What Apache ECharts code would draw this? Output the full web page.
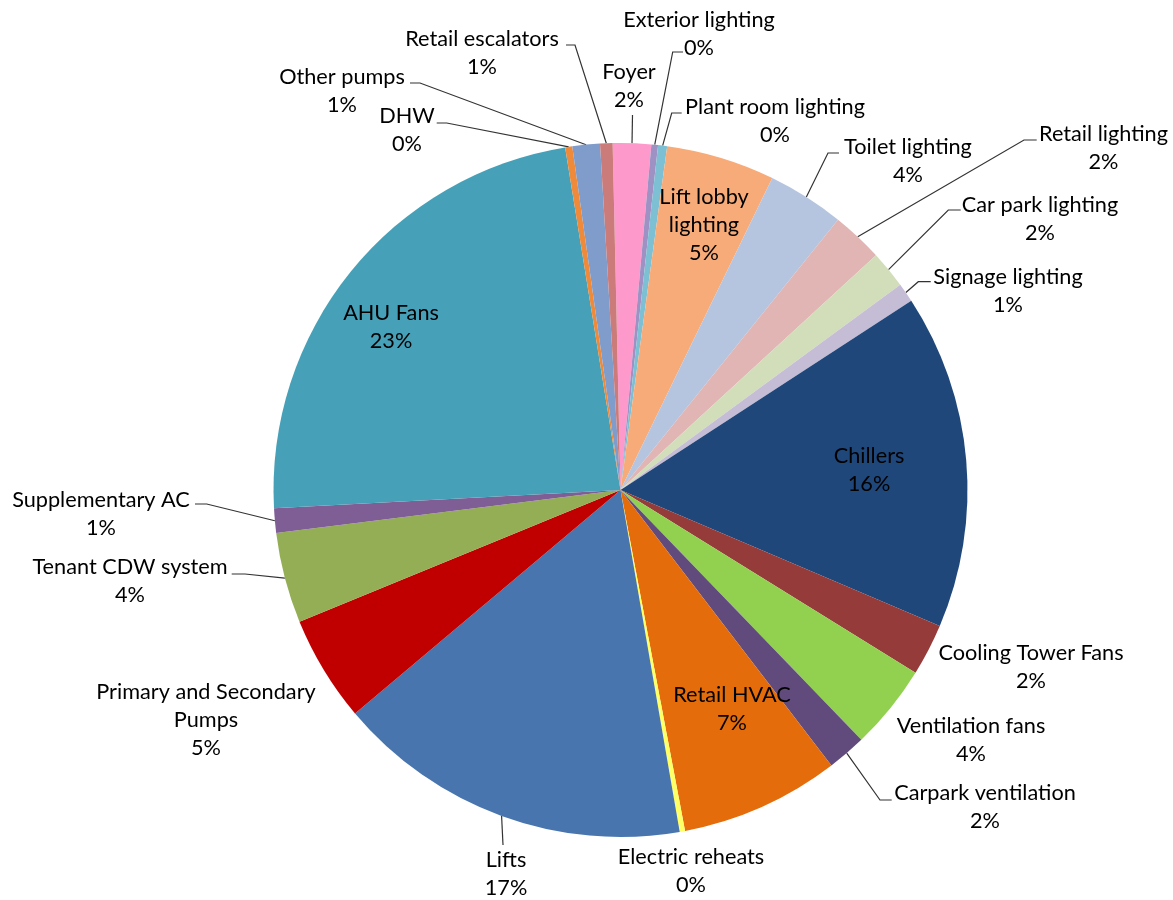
<!DOCTYPE html>
<html>
<head>
<meta charset="utf-8">
<script src="https://cdn.jsdelivr.net/npm/echarts@6/dist/echarts.min.js"></script>
<style>
html,body{margin:0;padding:0;background:#fff;}
#chart{width:1173px;height:900px;}
</style>
</head>
<body>
<div id="chart"></div>
<script>
// ---- data ----
var categories = ['Foyer','Exterior lighting','Plant room lighting','Lift lobby lighting','Toilet lighting',
  'Retail lighting','Car park lighting','Signage lighting','Chillers','Cooling Tower Fans','Ventilation fans',
  'Carpark ventilation','Retail HVAC','Electric reheats','Lifts','Primary and Secondary Pumps','Tenant CDW system',
  'Supplementary AC','AHU Fans','DHW','Other pumps','Retail escalators'];
var values = [1.78,0.31,0.42,5.06,3.58,2.39,1.75,0.89,15.6,2.42,3.97,1.81,7.42,0.25,16.6,4.94,4.22,1.14,23.3,0.33,1.28,0.58];
var labelTexts = ['Foyer','Exterior lighting','Plant room lighting','Lift lobby\nlighting','Toilet lighting',
  'Retail lighting','Car park lighting','Signage lighting','Chillers','Cooling Tower Fans','Ventilation fans',
  'Carpark ventilation','Retail HVAC','Electric reheats','Lifts','Primary and Secondary\nPumps','Tenant CDW system',
  'Supplementary AC','AHU Fans','DHW','Other pumps','Retail escalators'];

// ---- styles ----
var colors = ['#FE99CC','#9E92C4','#7DC0D4','#F7AB78','#B6C5DF','#E0B5B4','#D2DEB9','#C5BDD6','#1F477A','#953B39',
  '#92D050','#604B7C','#E46C0A','#FFFF66','#4875AE','#C00000','#94AE55','#7F5E96','#46A1B8','#EE8A3A','#7F9CCA','#CC7B7B'];
var insideSet = {'Lift lobby lighting':1,'Chillers':1,'Retail HVAC':1,'AHU Fans':1};
var noLine = {'Cooling Tower Fans':1,'Ventilation fans':1,'Primary and Secondary Pumps':1,'Electric reheats':1};
// label anchor (block centre) and leader-line bend/end points
var labelPos = {
  'Foyer':[629,86,[[632.5,115]]],
  'Exterior lighting':[699,34,[[672.7,52],[683,52]]],
  'Plant room lighting':[775,121,[[671.7,113],[681.7,113]]],
  'Lift lobby lighting':[704,225,null],
  'Toilet lighting':[908,161,[[828,153],[839,153]]],
  'Retail lighting':[1103.5,148,[[1024,140],[1036.7,140]]],
  'Car park lighting':[1040,219,[[948.3,210],[960.7,210]]],
  'Signage lighting':[1008,291,[[918.3,281.7],[930.7,281.7]]],
  'Chillers':[869,470,null],
  'Cooling Tower Fans':[1031,667,null],
  'Ventilation fans':[971,740,null],
  'Carpark ventilation':[985,807,[[880,800],[891.7,800]]],
  'Retail HVAC':[732,709,null],
  'Electric reheats':[691,871,null],
  'Lifts':[506,874,[[503,845]]],
  'Primary and Secondary Pumps':[206,720,null],
  'Tenant CDW system':[130,581,[[245,574],[231.7,574]]],
  'Supplementary AC':[101,514,[[206.7,504],[195,504]]],
  'AHU Fans':[391,327,null],
  'DHW':[407,130,[[446.7,123],[436.7,123]]],
  'Other pumps':[342,91,[[420,83],[410,83]]],
  'Retail escalators':[482,53,[[575,45],[566,45]]]
};

var seriesData = categories.map(function(c,i){
  var item = {name:c, value:values[i], itemStyle:{color:colors[i]}};
  if (insideSet[c]) { item.label = {position:'inside'}; item.labelLine = {show:false}; }
  else if (noLine[c]) { item.labelLine = {show:false}; }
  return item;
});

var chart = echarts.init(document.getElementById('chart'), null, {renderer:'canvas'});
chart.setOption({
  backgroundColor:'#fff',
  animation:false,
  series:[{
    type:'pie',
    center:[620.5,490],
    radius:[0,347],
    startAngle:91.3,
    clockwise:true,
    avoidLabelOverlap:false,
    data:seriesData,
    itemStyle:{borderWidth:0},
    label:{
      show:true,
      position:'outside',
      fontFamily:'Lato',
      fontSize:21.7,
      lineHeight:28,
      color:'#000',
      align:'center',
      formatter:function(p){ return labelTexts[p.dataIndex] + '\n' + Math.round(p.percent) + '%'; }
    },
    labelLine:{show:true, length:10, length2:10, lineStyle:{color:'#333', width:1.2}},
    labelLayout:function(params){
      var name = categories[params.dataIndex];
      var lp = labelPos[name];
      var res = {x:lp[0], y:lp[1], align:'center', verticalAlign:'middle'};
      if (lp[2] && params.labelLinePoints && params.labelLinePoints.length) {
        var start = params.labelLinePoints[0];
        res.labelLinePoints = [start].concat(lp[2]);
      }
      return res;
    }
  }]
});
</script>
</body>
</html>
